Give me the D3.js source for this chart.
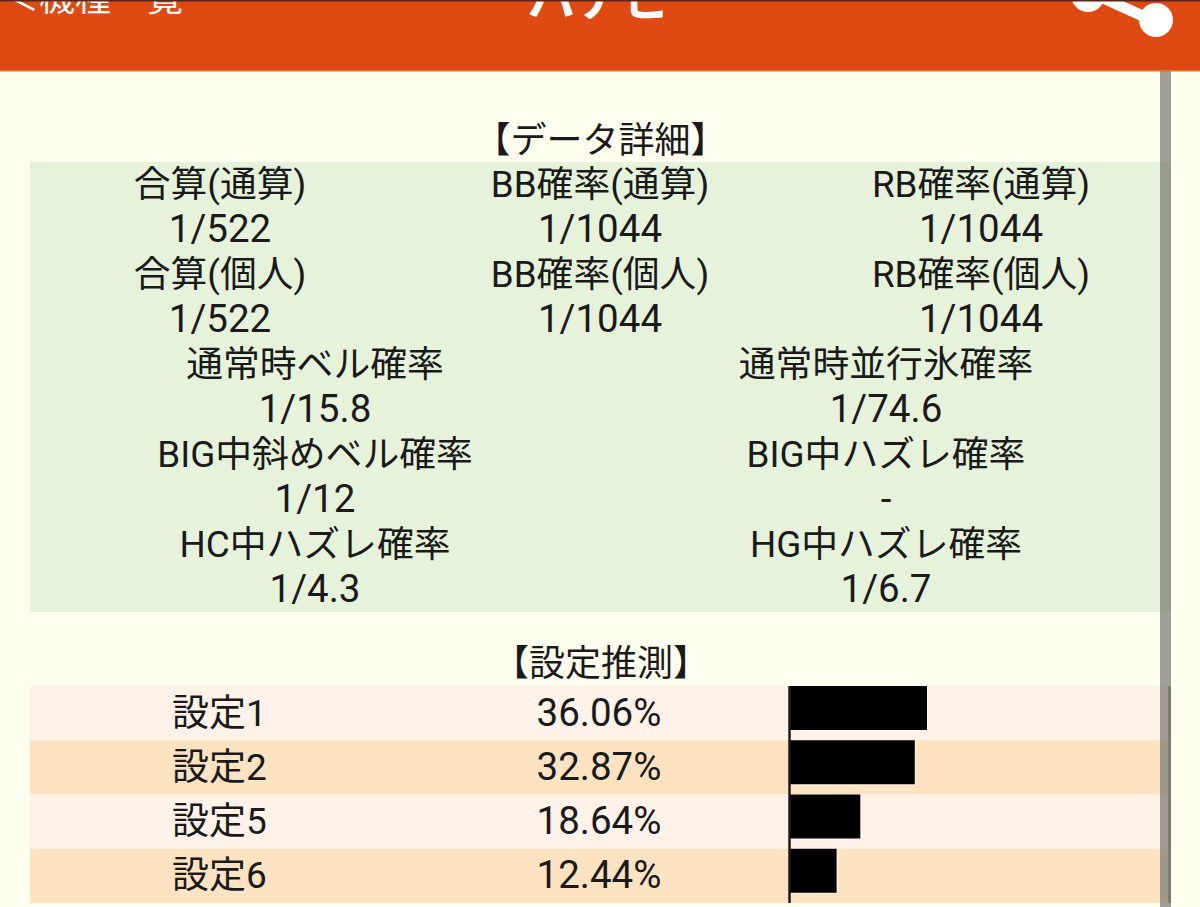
<!DOCTYPE html>
<html>
<head>
<meta charset="utf-8">
<script src="https://cdn.jsdelivr.net/npm/d3@7"></script>
<style>
  html, body { margin: 0; padding: 0; background: #fffff0; overflow: hidden; }
  svg { display: block; }
  text { font-family: Roboto, "Noto Sans CJK JP", sans-serif; fill: #1a1a1a; text-anchor: middle; }
</style>
</head>
<body>
<svg width="1200" height="907"></svg>
<script>
// values
var detailTitle = '【データ詳細】';
var guessTitle = '【設定推測】';

var threeColRows = [
  ['合算(通算)', 'BB確率(通算)', 'RB確率(通算)'],
  ['1/522', '1/1044', '1/1044'],
  ['合算(個人)', 'BB確率(個人)', 'RB確率(個人)'],
  ['1/522', '1/1044', '1/1044']
];
var twoColRows = [
  ['通常時ベル確率', '通常時並行氷確率'],
  ['1/15.8', '1/74.6'],
  ['BIG中斜めベル確率', 'BIG中ハズレ確率'],
  ['1/12', '-'],
  ['HC中ハズレ確率', 'HG中ハズレ確率'],
  ['1/4.3', '1/6.7']
];

var settings = ['設定1', '設定2', '設定5', '設定6'];
var percents = [36.06, 32.87, 18.64, 12.44];

var width = 1200;
var height = 907;
var labelSize = 36.8;
var valueSize = 38.5;
var svg = d3.select('svg');

svg.append('rect').attr('width', width).attr('height', height).attr('fill', '#fffff0');

// header, the screenshot cuts it off at the top
var header = svg.append('g');
header.append('rect').attr('width', width).attr('height', 71).attr('fill', '#de4a12');
header.append('rect').attr('y', 70).attr('width', width).attr('height', 1.5).attr('fill', '#e2733f');
header.append('text').attr('x', 93).attr('y', 11).attr('font-size', 36)
  .style('fill', '#fff').text('＜機種一覧');
header.append('text').attr('x', 599).attr('y', 16).attr('font-size', 48).attr('font-weight', 700)
  .style('fill', '#fff').text('ハナビ');
header.append('line').attr('x1', 1090).attr('y1', -8).attr('x2', 1156).attr('y2', 22)
  .attr('stroke', '#fff').attr('stroke-width', 11);
header.append('circle').attr('cx', 1156).attr('cy', 20).attr('r', 17).attr('fill', '#fff');
header.append('circle').attr('cx', 1088).attr('cy', -5).attr('r', 17).attr('fill', '#fff');
header.append('rect').attr('width', width).attr('height', 1.5).attr('fill', '#5a2418');

// data detail table
var rowY = d3.scaleBand().domain(d3.range(10)).range([162, 612]);
svg.append('rect').attr('x', 30).attr('y', 162).attr('width', 1141).attr('height', 450).attr('fill', '#e6f3da');

svg.append('text').attr('x', 600.5).attr('y', 152.5).attr('font-size', 36).text(detailTitle);

var threeX = [220, 600, 981];
var twoX = [315, 886];

// odd rows hold the numbers, they came out larger in the app
var drawRows = function(data, xs, start) {
  data.forEach(function(row, i) {
    svg.append('g').selectAll('text').data(row).enter().append('text')
      .attr('x', function(d, j) { return xs[j]; })
      .attr('y', rowY(i + start) + 35)
      .attr('font-size', i % 2 ? valueSize : labelSize)
      .text(function(d) { return d; });
  });
};
drawRows(threeColRows, threeX, 0);
drawRows(twoColRows, twoX, 4);

// setting guess table
svg.append('text').attr('x', 601).attr('y', 675.5).attr('font-size', 36).text(guessTitle);

var y = d3.scaleBand().domain(settings).range([686, 903]);
var x = d3.scaleLinear().domain([0, 36.06]).range([789, 927]);

var rows = svg.append('g').selectAll('g').data(settings).enter().append('g');

rows.append('rect')
  .attr('x', 30)
  .attr('y', function(d) { return y(d); })
  .attr('width', 1141)
  .attr('height', y.bandwidth())
  .attr('fill', function(d, i) { return i % 2 ? '#fee3c3' : '#fff2e8'; });

rows.append('text')
  .attr('x', 219.5)
  .attr('y', function(d) { return y(d) + 39.5; })
  .attr('font-size', 37)
  .text(function(d) { return d; });

rows.append('text')
  .attr('x', 599)
  .attr('y', function(d) { return y(d) + 39.5; })
  .attr('font-size', valueSize)
  .text(function(d, i) { return percents[i].toFixed(2) + '%'; });

// axis line on the left of the bars
svg.append('line').attr('x1', 789.5).attr('x2', 789.5).attr('y1', 686).attr('y2', 903)
  .attr('stroke', '#1a1a1a').attr('stroke-width', 2.5);

rows.append('rect')
  .attr('x', x(0))
  .attr('y', function(d) { return y(d); })
  .attr('width', function(d, i) { return x(percents[i]) - x(0) + 1; })
  .attr('height', 45)
  .attr('fill', '#fff')
  .attr('opacity', 0.6);

rows.append('rect')
  .attr('x', x(0))
  .attr('y', function(d) { return y(d); })
  .attr('width', function(d, i) { return x(percents[i]) - x(0); })
  .attr('height', 44)
  .attr('fill', '#000');

// scroll bar overlay
svg.append('rect').attr('x', 1160).attr('y', 71).attr('width', 11).attr('height', height - 71)
  .attr('fill', '#76766e').attr('opacity', 0.7);
svg.append('rect').attr('x', 1168).attr('y', 686).attr('width', 3).attr('height', 217)
  .attr('fill', '#6e6e68').attr('opacity', 0.7);
</script>
</body>
</html>
